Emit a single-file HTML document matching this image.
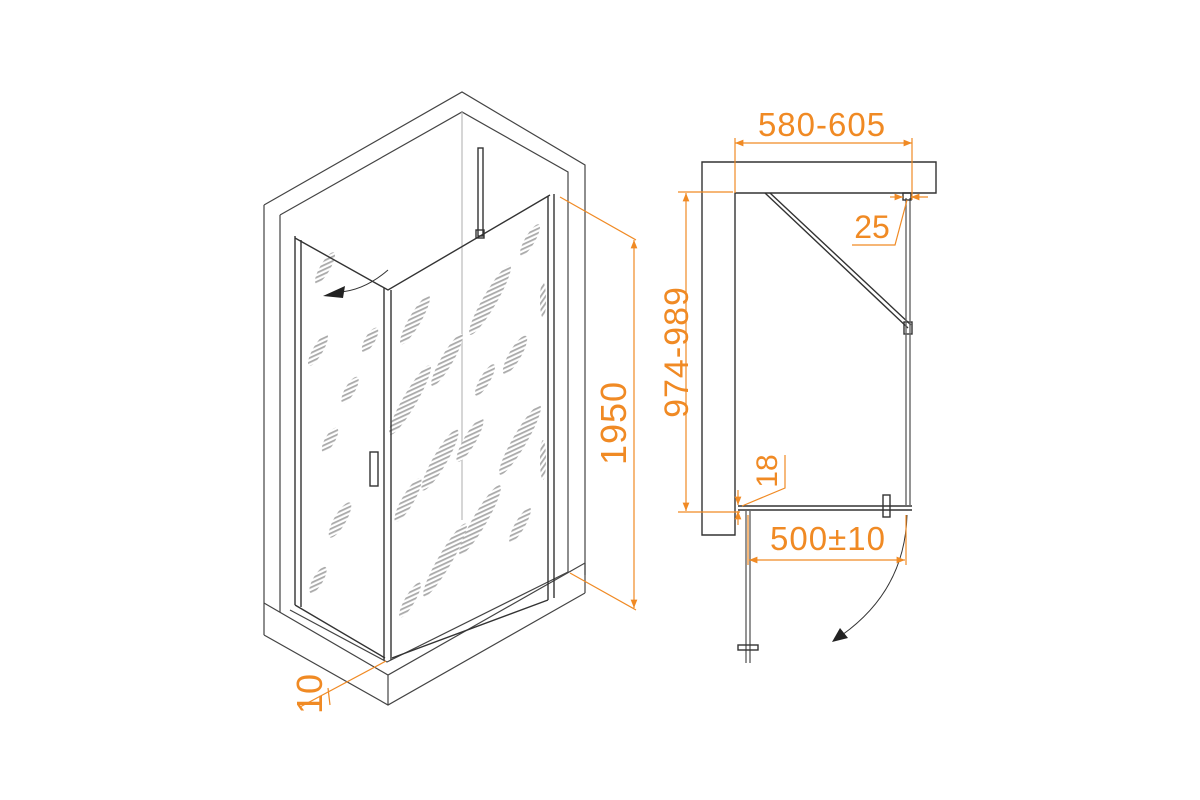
<!DOCTYPE html>
<html><head><meta charset="utf-8"><style>
html,body{margin:0;padding:0;background:#fff;}
svg{display:block}
text{font-family:"Liberation Sans",sans-serif;fill:#f08a24;}
</style></head><body>
<svg width="1200" height="800" viewBox="0 0 1200 800" xmlns="http://www.w3.org/2000/svg">
<defs>
<pattern id="h" width="4" height="4" patternUnits="userSpaceOnUse" patternTransform="rotate(35)">
<rect width="4" height="4" fill="#fff"/><rect width="1.8" height="4" fill="#aaa"/>
</pattern>
<marker id="a" viewBox="0 0 10 10" refX="10" refY="5" markerWidth="7" markerHeight="7" orient="auto-start-reverse"><path d="M0,1 L10,5 L0,9 z" fill="#f08a24"/></marker>
</defs>

<!-- LEFT ISOMETRIC -->
<g fill="none" stroke="#444" stroke-width="1.2">
<path d="M264,205 L462,92 L585,165 L585,575"/>
<path d="M280,215 L462,112 L568,172 L568,572"/>
<path d="M264,205 L264,635 M280,215 L280,612"/>
<line x1="462" y1="112" x2="462" y2="520" stroke="#bbb"/>
<path d="M264,603 L388,675 L585,563 M264,635 L388,705 L585,593 M388,675 L388,705 M585,563 L585,593"/>
<path d="M290,610 L387,662 L568,572" />
</g>
<g fill="url(#h)" stroke="none">
<ellipse cx="325" cy="268" rx="5" ry="18" transform="rotate(30 325 268)"/>
<ellipse cx="318" cy="350" rx="5" ry="18" transform="rotate(30 318 350)"/>
<ellipse cx="350" cy="390" rx="5" ry="15" transform="rotate(30 350 390)"/>
<ellipse cx="330" cy="440" rx="5" ry="14" transform="rotate(30 330 440)"/>
<ellipse cx="340" cy="520" rx="6" ry="20" transform="rotate(30 340 520)"/>
<ellipse cx="318" cy="580" rx="5" ry="15" transform="rotate(30 318 580)"/>
<ellipse cx="370" cy="340" rx="5" ry="14" transform="rotate(30 370 340)"/>
<ellipse cx="415" cy="320" rx="6" ry="28" transform="rotate(30 415 320)"/>
<ellipse cx="410" cy="400" rx="7" ry="40" transform="rotate(30 410 400)"/>
<ellipse cx="408" cy="500" rx="6" ry="25" transform="rotate(30 408 500)"/>
<ellipse cx="410" cy="600" rx="5" ry="20" transform="rotate(30 410 600)"/>
<ellipse cx="447" cy="360" rx="6" ry="30" transform="rotate(30 447 360)"/>
<ellipse cx="440" cy="460" rx="7" ry="35" transform="rotate(30 440 460)"/>
<ellipse cx="445" cy="560" rx="7" ry="42" transform="rotate(30 445 560)"/>
<ellipse cx="490" cy="300" rx="7" ry="40" transform="rotate(30 490 300)"/>
<ellipse cx="470" cy="440" rx="6" ry="25" transform="rotate(30 470 440)"/>
<ellipse cx="485" cy="380" rx="5" ry="18" transform="rotate(30 485 380)"/>
<ellipse cx="480" cy="520" rx="7" ry="40" transform="rotate(30 480 520)"/>
<ellipse cx="515" cy="355" rx="6" ry="22" transform="rotate(30 515 355)"/>
<ellipse cx="520" cy="440" rx="7" ry="40" transform="rotate(30 520 440)"/>
<ellipse cx="520" cy="525" rx="5" ry="20" transform="rotate(30 520 525)"/>
<ellipse cx="530" cy="240" rx="5" ry="18" transform="rotate(30 530 240)"/>
<ellipse cx="543" cy="300" rx="3" ry="18"/>
<ellipse cx="543" cy="460" rx="3" ry="20"/>
</g>
<g fill="none" stroke="#333" stroke-width="1.4">
<path d="M295,238 L388,290 L550,195"/>
<path d="M295,236 L295,605 M301,240 L301,607"/>
<path d="M384,288 L384,660 M391,290 L391,660"/>
<path d="M548,196 L548,600 M554,194 L554,598"/>
<path d="M295,605 L385,658 M392,658 L548,600"/>
<rect x="478" y="148" width="5" height="88"/>
<rect x="476" y="230" width="8" height="8"/>
<rect x="370" y="452" width="8" height="34"/>
<path d="M388,270 Q365,290 340,292" stroke-width="1"/>
</g>
<path d="M323,296 L345,286 L343,298 z" fill="#222"/>

<g stroke="#f08a24" stroke-width="1.2" fill="none">
<line x1="560" y1="197" x2="636" y2="240"/>
<line x1="570" y1="573" x2="636" y2="610"/>
<line x1="634" y1="240" x2="634" y2="608" marker-start="url(#a)" marker-end="url(#a)"/>
<line x1="386" y1="661" x2="300" y2="707"/>
<line x1="328" y1="688" x2="330" y2="705"/>
</g>
<text transform="translate(626,423) rotate(-90)" font-size="36" text-anchor="middle" letter-spacing="1">1950</text>
<text transform="translate(322,694) rotate(-90)" font-size="36" text-anchor="middle">10</text>

<!-- RIGHT PLAN -->
<g fill="none" stroke="#333" stroke-width="1.4">
<path d="M702,162 L936,162 L936,193 L735,193 L735,535 L702,535 Z"/>
<path d="M765,193 L908,328 M770,193 L911,325"/>
<rect x="904" y="322" width="8" height="12"/>
<path d="M906,198 L906,505 M910,198 L910,505" stroke="#666"/>
<rect x="903" y="193" width="8" height="7"/>
<path d="M738,506 L912,506 M738,510 L912,510"/>
<rect x="883" y="495" width="7" height="22"/>
<path d="M746,510 L746,663 M750,510 L750,663" stroke="#666"/>
<rect x="738" y="645" width="20" height="5"/>
<path d="M907,515 Q905,590 842,635" stroke="#333" stroke-width="1"/>
</g>
<path d="M832,642 L840,628 L848,638 z" fill="#222"/>

<g stroke="#f08a24" stroke-width="1.2" fill="none">
<line x1="735" y1="138" x2="735" y2="193"/>
<line x1="912" y1="138" x2="912" y2="200"/>
<line x1="735" y1="143" x2="912" y2="143" marker-start="url(#a)" marker-end="url(#a)"/>
<line x1="678" y1="192" x2="733" y2="192"/>
<line x1="678" y1="512" x2="740" y2="512"/>
<line x1="686" y1="193" x2="686" y2="511" marker-start="url(#a)" marker-end="url(#a)"/>
<line x1="890" y1="197" x2="903" y2="197" marker-end="url(#a)"/>
<line x1="928" y1="197" x2="911" y2="197" marker-end="url(#a)"/>
<path d="M907,200 L895,245 L852,245"/>
<line x1="738" y1="490" x2="738" y2="505" marker-end="url(#a)"/>
<line x1="738" y1="525" x2="738" y2="511" marker-end="url(#a)"/>
<path d="M742,506 L785,488 L785,455"/>
<line x1="748" y1="515" x2="748" y2="565"/>
<line x1="906" y1="515" x2="906" y2="565"/>
<line x1="749" y1="560" x2="905" y2="560" marker-start="url(#a)" marker-end="url(#a)"/>
</g>
<text x="822" y="136" font-size="33" text-anchor="middle" letter-spacing="1">580-605</text>
<text x="872" y="238" font-size="32" text-anchor="middle">25</text>
<text transform="translate(688,352) rotate(-90)" font-size="34" text-anchor="middle" letter-spacing="1">974-989</text>
<text transform="translate(777,471) rotate(-90)" font-size="30" text-anchor="middle">18</text>
<text x="828" y="550" font-size="33" text-anchor="middle" letter-spacing="1">500±10</text>
</svg>
</body></html>
